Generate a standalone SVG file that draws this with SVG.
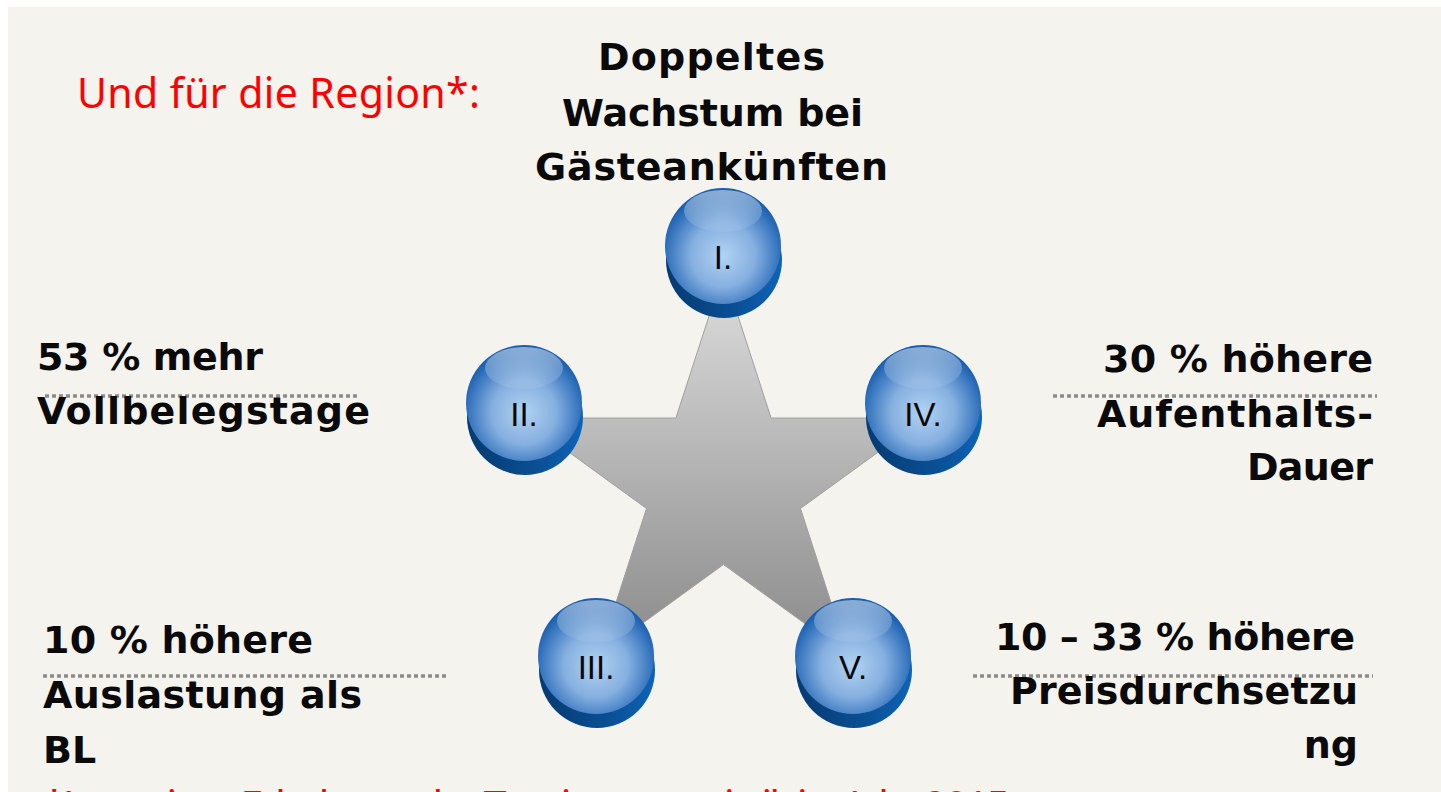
<svg xmlns="http://www.w3.org/2000/svg" xmlns:xlink="http://www.w3.org/1999/xlink" width="1441" height="792" viewBox="0 0 1441 792">
<style>
.t{font-family:"DejaVu Sans","Noto Sans",sans-serif;font-weight:bold;font-size:38px;fill:#0a0a0a}
.red{font-family:"Noto Sans","Open Sans","DejaVu Sans",sans-serif;font-size:41px;fill:#ff0000}
.num{font-family:"Liberation Sans",Arial,sans-serif;font-size:33px;fill:#0a0a0a;text-anchor:middle}
.dot{stroke:#8c8c8c;stroke-width:3.5;stroke-dasharray:4 3;fill:none}
</style>
<defs>
<linearGradient id="starG" x1="0" y1="0" x2="0" y2="1">
<stop offset="0" stop-color="#dedede"/>
<stop offset="1" stop-color="#8a8a8a"/>
</linearGradient>
<radialGradient id="faceG" cx="0.5" cy="0.58" r="0.55">
<stop offset="0" stop-color="#b2d3f2"/>
<stop offset="0.5" stop-color="#86b0e0"/>
<stop offset="0.85" stop-color="#3a78c0"/>
<stop offset="1" stop-color="#1a5fb0"/>
</radialGradient>
<linearGradient id="baseG" x1="0" y1="0" x2="1" y2="0">
<stop offset="0" stop-color="#063a70"/>
<stop offset="0.6" stop-color="#0a4f94"/>
<stop offset="1" stop-color="#0d64b8"/>
</linearGradient>
<linearGradient id="hiG" x1="0" y1="0" x2="0" y2="1">
<stop offset="0" stop-color="#ffffff" stop-opacity="0.5"/>
<stop offset="1" stop-color="#ffffff" stop-opacity="0.05"/>
</linearGradient>
<g id="ball">
<ellipse cx="1" cy="14" rx="58" ry="58" fill="url(#baseG)"/>
<ellipse cx="0" cy="0" rx="58" ry="58" fill="url(#faceG)"/>
<ellipse cx="0" cy="-35" rx="39" ry="21" fill="url(#hiG)"/>
</g>
</defs>
<rect x="0" y="0" width="1441" height="792" fill="#ffffff"/>
<rect x="8" y="7" width="1433" height="785" fill="#f4f3ee"/>

<g id="heading">
<text class="red" x="77" y="108" textLength="403" lengthAdjust="spacing">Und für die Region*:</text>
</g>

<g id="star">
<polygon points="723.5,271.5 771.1,418 925.1,418 800.5,508.5 848.1,655 723.5,564.5 598.9,655 646.5,508.5 521.9,418 675.9,418" fill="url(#starG)" stroke="#a0a0a0" stroke-width="1" stroke-linejoin="round"/>
</g>

<g id="connectors">
<line class="dot" x1="45" y1="396" x2="358" y2="396"/>
<line class="dot" x1="1053" y1="396" x2="1377" y2="396"/>
<line class="dot" x1="43" y1="676" x2="448" y2="676"/>
<line class="dot" x1="973" y1="676" x2="1373" y2="676"/>
</g>

<g id="node-I">
<use xlink:href="#ball" x="723" y="246"/>
<text class="num" x="723" y="269">I.</text>
</g>
<g id="node-II">
<use xlink:href="#ball" x="524" y="403"/>
<text class="num" x="524" y="426">II.</text>
</g>
<g id="node-IV">
<use xlink:href="#ball" x="923" y="403"/>
<text class="num" x="923" y="426">IV.</text>
</g>
<g id="node-III">
<use xlink:href="#ball" x="596" y="656"/>
<text class="num" x="596" y="679">III.</text>
</g>
<g id="node-V">
<use xlink:href="#ball" x="853" y="656"/>
<text class="num" x="853" y="679">V.</text>
</g>

<g id="label-I">
<text class="t" x="598" y="70" textLength="227" lengthAdjust="spacing">Doppeltes</text>
<text class="t" x="562" y="126" textLength="301" lengthAdjust="spacing">Wachstum bei</text>
<text class="t" x="535" y="180" textLength="353" lengthAdjust="spacing">Gästeankünften</text>
</g>
<g id="label-II">
<text class="t" x="37" y="370" textLength="226" lengthAdjust="spacing">53 % mehr</text>
<text class="t" x="37" y="424" textLength="333" lengthAdjust="spacing">Vollbelegstage</text>
</g>
<g id="label-IV">
<text class="t" x="1103" y="372" textLength="270" lengthAdjust="spacing">30 % höhere</text>
<text class="t" x="1097" y="427" textLength="276" lengthAdjust="spacing">Aufenthalts-</text>
<text class="t" x="1247" y="480" textLength="126" lengthAdjust="spacing">Dauer</text>
</g>
<g id="label-III">
<text class="t" x="43" y="653" textLength="270" lengthAdjust="spacing">10 % höhere</text>
<text class="t" x="43" y="708" textLength="319" lengthAdjust="spacing">Auslastung als</text>
<text class="t" x="43" y="763">BL</text>
</g>
<g id="label-V">
<text class="t" x="995" y="650" textLength="360" lengthAdjust="spacing">10 – 33 % höhere</text>
<text class="t" x="1010" y="704" textLength="348" lengthAdjust="spacing">Preisdurchsetzu</text>
<text class="t" x="1358" y="758" text-anchor="end">ng</text>
</g>

<g id="footnote">
<text class="red" x="43" y="821" textLength="967" lengthAdjust="spacing">*Laut einer Erhebung der Tourismusstatistik im Jahr 2015</text>
</g>
</svg>
